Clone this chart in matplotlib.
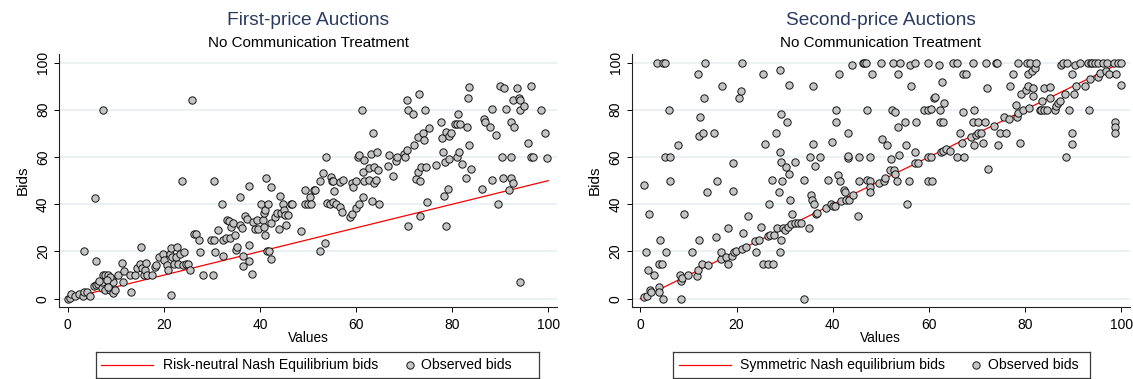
import matplotlib
matplotlib.use('Agg')
import matplotlib.pyplot as plt

plt.rcParams['font.family'] = ['Liberation Sans', 'DejaVu Sans']

# First-price auctions: (value, bid) pairs
fp_values = [0, 0.4, 0.7, 1.5, 2.3, 3.1, 3.5, 4.0, 4.6, 3.5, 5.6, 5.9, 5.4, 5.8, 6.4, 7.1, 7.4, 7.7, 7.4, 7.1,
             7.8, 8.3, 8.5, 8.9, 9.2, 9.5, 9.8, 9.5, 8.9, 8.1, 8.4, 6.6, 10.5, 11.4, 11.6, 11.8, 13.0, 13.1, 14.0, 14.5,
             15.1, 15.3, 15.5, 15.8, 16.0, 16.3, 16.6, 17.5, 18.1, 18.3, 19.0, 19.8, 20.1, 20.6, 20.9, 21.2, 21.4, 21.5, 21.8, 22.1,
             22.5, 22.7, 23.0, 23.4, 23.7, 23.9, 24.3, 24.6, 25.1, 25.5, 25.8, 26.2, 26.8, 27.4, 27.5, 28.2, 29.9, 30.2, 30.4, 30.4,
             30.6, 31.3, 32.1, 32.3, 32.4, 32.9, 33.2, 33.6, 33.7, 34.0, 34.4, 34.9, 35.0, 35.3, 35.8, 35.9, 36.3, 36.4, 36.4, 36.8,
             37.3, 37.7, 37.8, 37.7, 38.3, 38.6, 39.0, 39.4, 39.7, 40.2, 40.6, 40.8, 40.9, 41.0, 41.1, 41.2, 41.4, 41.7, 41.8, 42.3,
             42.4, 42.4, 43.1, 43.5, 43.9, 44.2, 44.4, 44.7, 45.0, 45.3, 45.4, 45.9, 46.4, 46.7, 48.6, 49.3, 49.4, 49.9, 50.5, 50.7,
             51.2, 51.5, 52.4, 52.4, 53.2, 53.5, 53.7, 54.0, 54.5, 54.8, 54.9, 55.1, 55.2, 55.5, 55.8, 56.6, 56.7, 57.1, 57.3, 58.7,
             59.1, 59.2, 59.4, 59.9, 59.9, 60.3, 60.6, 60.7, 61.2, 61.4, 61.7, 61.7, 61.5, 62.6, 62.7, 63.2, 63.4, 63.5, 63.7, 63.7,
             64.1, 64.4, 64.5, 64.7, 66.6, 66.8, 67.7, 68.4, 68.6, 69.9, 70.2, 70.5, 70.5, 70.9, 70.9, 71.9, 72.0, 72.5, 72.8, 72.9,
             73.0, 73.2, 73.4, 73.6, 74.0, 74.2, 74.3, 74.6, 74.7, 75.1, 76.6, 77.7, 77.8, 78.0, 78.2, 78.4, 78.8, 78.8, 79.2, 79.4,
             79.7, 79.4, 80.5, 80.9, 80.9, 81.4, 81.3, 81.6, 82.0, 82.9, 83.0, 83.3, 83.4, 83.4, 83.9, 86.3, 86.6, 86.8, 87.8, 88.2,
             88.3, 89.2, 89.6, 90.0, 90.4, 90.6, 90.8, 91.2, 91.8, 92.3, 92.3, 92.2, 92.6, 92.8, 92.7, 93.5, 93.8, 94.2, 94.2, 94.2,
             94.9, 95.8, 96.3, 96.3, 96.8, 98.4, 99.4, 99.8]
fp_bids = [0, 0.3, 2, 1, 2, 1, 3, 2.7, 1, 20, 42.6, 16, 5.4, 5.7, 6.4, 4.7, 10, 10, 80, 7,
           3.5, 10, 6.4, 3.5, 8.5, 2.4, 3.5, 7, 9.2, 7.8, 5, 7.5, 10, 15, 7, 11.7, 10, 3, 10, 12.9,
           14.6, 22, 13.2, 10, 12.3, 15.3, 10, 10, 13.4, 14.1, 17.7, 18.8, 16.3, 14.1, 12, 19, 21.6, 1.6, 17.7, 14.9,
           17.7, 22, 14.9, 19, 50, 14.4, 19.8, 14.9, 14.9, 12, 84.2, 27.2, 27.2, 25, 19.8, 10, 25, 10, 50, 25,
           19.8, 29.3, 40, 25, 18, 25.9, 33.2, 33, 25.9, 30.4, 32.1, 26.9, 20.8, 22, 43.1, 31.1, 30, 18, 14, 34.9,
           33.9, 47.7, 22.6, 16, 10.3, 32.5, 29.7, 33.2, 29.7, 40, 33.2, 36.1, 30.4, 37.5, 26.9, 50.9, 20.2, 40, 20.2, 32.1,
           47.1, 17, 34.7, 36.1, 29.7, 43.7, 36.1, 40, 37.5, 35.4, 31.1, 35.4, 40.3, 40, 28.7, 40, 46, 40, 43.1, 40,
           46, 46, 20.2, 50, 53.3, 23.8, 60.1, 40.6, 40, 51.6, 50, 41, 50, 45.4, 40.3, 38.9, 49.5, 36.9, 50.2, 34.7,
           35.8, 48.8, 47.4, 38.2, 50, 60.1, 60.7, 40, 80, 53.7, 58.7, 50, 43.1, 50.2, 55.2, 61.2, 41.3, 70.3, 55.6, 49.1,
           50.2, 62.2, 54.7, 40, 56.2, 60.7, 52, 58.1, 60.1, 61.2, 60.1, 84.2, 62.9, 30.7, 80, 78.2, 65.1, 50.5, 68.3, 53.7,
           86.7, 34.9, 50, 55.6, 70, 67.2, 80, 55.6, 40.9, 72.1, 56.6, 75, 67.9, 62.2, 43.4, 58, 30.7, 70.7, 46.5, 68.9,
           70, 59, 74, 74, 60.1, 62.2, 78.1, 74, 57, 50.9, 72.8, 84.9, 89.5, 65.1, 55, 46.3, 76.1, 75, 72.8, 50.2,
           80.2, 69.3, 40, 90.1, 60.1, 50.9, 89, 80.2, 46, 75, 59.8, 51.2, 84.2, 72.8, 49.1, 89, 84.9, 80, 7, 84.2,
           81.6, 65.8, 90.1, 60.1, 60.1, 80, 70, 59.4]

# Second-price auctions
sp_values = [0.75, 0.75, 1.4, 1.2, 1.5, 1.8, 2.1, 2.3, 2.9, 3.5, 3.8, 3.9, 4.1, 3.9, 4.4, 4.7, 4.8, 5.2, 5.2, 5.3,
             5.9, 6.2, 6.2, 7.9, 8.2, 8.4, 8.4, 8.7, 9.0, 9.9, 10.7, 11.8, 11.9, 12.0, 12.1, 12.2, 12.4, 12.9, 13.1, 13.3,
             13.4, 13.8, 14.1, 15.4, 15.8, 16.0, 16.7, 16.8, 16.9, 17.8, 18.3, 18.3, 19.0, 19.2, 19.2, 19.5, 19.8, 20.5, 20.9, 21.1,
             21.3, 21.2, 21.9, 22.3, 23.8, 24.1, 24.7, 25.1, 25.4, 25.4, 26.0, 26.5, 26.6, 26.8, 27.0, 27.4, 27.6, 27.8, 28.2, 28.5,
             28.9, 29.0, 29.0, 29.1, 29.3, 29.3, 29.3, 29.5, 29.6, 30.0, 30.2, 30.4, 30.6, 30.8, 31.0, 31.1, 31.4, 31.5, 32.1, 32.1,
             32.7, 33.3, 34.0, 34.0, 35.0, 35.3, 35.5, 35.7, 35.8, 35.9, 36.0, 36.3, 36.5, 36.7, 37.3, 38.7, 39.1, 39.7, 39.9, 40.1,
             40.4, 40.6, 40.7, 41.1, 41.3, 41.6, 41.8, 42.3, 42.5, 42.7, 43.1, 43.1, 43.1, 43.3, 44.0, 44.2, 45.3, 45.4, 45.5, 46.2,
             46.6, 46.9, 47.2, 47.2, 47.7, 47.7, 47.7, 47.7, 48.1, 49.6, 50.1, 50.2, 50.7, 50.8, 51.3, 51.8, 52.2, 52.4, 52.6, 52.7,
             52.9, 53.0, 53.4, 53.5, 53.5, 53.8, 54.0, 55.0, 55.3, 55.5, 55.9, 56.0, 56.2, 57.0, 57.2, 57.4, 57.2, 57.7, 58.9, 59.7,
             59.7, 59.9, 59.9, 60.4, 60.6, 60.4, 61.0, 61.2, 62.1, 62.3, 62.4, 62.5, 62.8, 63.0, 63.2, 63.0, 63.6, 64.4, 64.9, 65.8,
             65.9, 66.5, 66.9, 67.0, 67.0, 67.2, 67.6, 68.8, 69.1, 69.2, 69.4, 69.4, 69.7, 70.1, 70.3, 70.8, 71.2, 71.6, 71.9, 72.1,
             72.3, 73.6, 73.9, 74.1, 74.4, 74.8, 75.6, 76.1, 76.6, 76.8, 77.4, 78.1, 78.3, 78.5, 78.5, 78.9, 79.2, 79.5, 80.2, 80.4,
             80.5, 80.5, 80.8, 81.0, 81.4, 81.7, 81.6, 82.0, 82.3, 83.0, 83.4, 83.6, 84.0, 83.9, 84.6, 85.1, 85.1, 86.2, 86.4, 86.8,
             87.2, 87.4, 87.9, 88.2, 88.5, 88.8, 89.1, 89.7, 89.7, 89.8, 90.2, 90.4, 90.5, 91.4, 92.5, 93.1, 93.3, 93.4, 93.6, 94.0,
             94.6, 95.2, 95.2, 95.5, 96.1, 96.8, 97.0, 97.5, 98.5, 98.6, 98.6, 98.6, 98.8, 99.4, 100.0, 100.0]
sp_bids = [48.1, 0.7, 1, 19.9, 12, 35.9, 3.8, 2.8, 9.9, 100, 5, 2.8, 25, 14.9, 14.9, 100, 0, 100, 60, 19.9,
           79.9, 60, 49.9, 64.9, 9.9, 7.4, 0, 8.9, 35.9, 9.9, 19.9, 9.8, 95, 12, 25, 68.9, 76.9, 14.9, 70, 85,
           100, 45, 14.1, 70, 26, 49.9, 16.8, 19.9, 90, 17.7, 30, 14.9, 18, 57.6, 45.5, 19.7, 20.2, 85, 88, 100,
           27.9, 21.1, 21.9, 34.9, 24.3, 19.9, 25, 30.4, 14.9, 95, 65.5, 14.9, 26.6, 40, 26.9, 50.1, 14.9, 26.9, 70, 30,
           45, 19.9, 97, 62.1, 78.2, 25, 58, 49.9, 30, 29, 55.9, 75, 30.4, 52.8, 90.5, 42, 31.5, 35.9, 57.9, 32.1,
           32.1, 32.1, 50.1, 0, 30, 60, 44.1, 41.7, 90, 65.5, 40, 56.2, 35.9, 36.4, 60, 38.6, 50.1, 40, 66.5, 39.2,
           39.2, 75, 79.9, 52.3, 95, 49.9, 41.4, 46, 45.3, 41.7, 59.4, 60.3, 70, 42, 99, 44.1, 34.9, 49.9, 60, 100,
           100, 100, 79.9, 50.1, 49.9, 60, 47.4, 45, 95, 48.9, 100, 67.5, 49.9, 50.9, 64.9, 54.7, 59, 79.9, 100, 54.7,
           78.9, 53, 49.9, 72.8, 95, 60.8, 100, 75, 64.9, 40, 49.9, 99, 90, 62.1, 100, 75, 57.3, 57.6, 79.9, 79.9,
           60, 100, 49.9, 60, 49.9, 80.5, 84.9, 85.6, 99, 79.9, 75, 62.2, 91.9, 75, 83, 62.7, 63.2, 62.7, 100, 100,
           60, 70, 66.1, 78.9, 95, 60, 95, 68.6, 100, 75, 79.9, 65.2, 69.3, 75, 70, 70, 65.8, 75, 100, 89,
           54.9, 73.1, 100, 100, 64.9, 70, 76.8, 70, 76, 90, 95, 82, 77.1, 100, 78.5, 66.1, 86.7, 79.9, 88.4, 100,
           90, 95, 80.6, 100, 96.2, 89.1, 85.9, 97.6, 100, 79.9, 79.9, 83.5, 89.1, 79.9, 79.9, 89.8, 84.9, 79.9, 81.6, 83,
           83.5, 99, 100, 86.7, 60, 100, 79.9, 70, 65.5, 95, 86.7, 99, 90, 100, 90, 100, 79.9, 92.9, 100, 100,
           100, 100, 94, 95.5, 100, 96.5, 100, 95, 100, 75, 72.8, 70, 95, 100, 100, 90.5]

# Nash equilibrium bid functions
eq_values = [0, 100]
fp_eq_bids = [0, 50]
sp_eq_bids = [0, 100]

ticks = [0, 20, 40, 60, 80, 100]
title_color = '#2a3b62'
W, H = 1133, 379

fig = plt.figure(figsize=(W / 100, H / 100), dpi=100)

panels = [
    dict(left=59, right=557, title='First-price Auctions', x=fp_values, y=fp_bids, eq=fp_eq_bids,
         eq_label='Risk-neutral Nash Equilibrium bids', leg=(95.7, 538.7), leg_items=(5.3, 57.3, 67, 314.3, 325.3)),
    dict(left=631.7, right=1130, title='Second-price Auctions', x=sp_values, y=sp_bids, eq=sp_eq_bids,
         eq_label='Symmetric Nash equilibrium bids', leg=(673.3, 1090.3), leg_items=(6.1, 57.6, 66.6, 303.2, 314.7)),
]

top, bottom = 54, 307
for p in panels:
    ax = fig.add_axes([p['left'] / W, (H - bottom) / H, (p['right'] - p['left']) / W, (bottom - top) / H])
    ax.plot(eq_values, p['eq'], color='#ff0000', lw=0.9, zorder=2)
    ax.scatter(p['x'], p['y'], s=28, facecolor='#c4c4c4', edgecolor='#151515', linewidth=0.7, zorder=3)
    ax.set_xlim(-1.8, 101.8)
    ax.set_ylim(-3.5, 103.6)
    ax.set_xticks(ticks)
    ax.set_yticks(ticks)
    ax.grid(axis='y', color='#e6eef0', lw=1.1)
    ax.set_axisbelow(True)
    for s in ['top', 'right']:
        ax.spines[s].set_visible(False)
    for s in ['left', 'bottom']:
        ax.spines[s].set_linewidth(0.8)
        ax.spines[s].set_color('#222222')
    ax.tick_params(axis='x', length=3.5, width=0.7, labelsize=10, pad=4.2)
    ax.tick_params(axis='y', length=3.8, width=0.7, labelsize=10, pad=2.7, labelrotation=90)
    for t in ax.get_yticklabels():
        t.set_va('center')
    ax.set_xlabel('Values', fontsize=9.8)
    ax.xaxis.set_label_coords(0.5, -0.1245)
    ax.xaxis.label.set_va('center')
    ax.set_ylabel('Bids', fontsize=11)
    ax.yaxis.set_label_coords(-0.0737, 0.5)
    ax.yaxis.label.set_va('center')

    cx = (p['left'] + p['right']) / 2 / W
    fig.text(cx, 1 - 20.7 / H, p['title'], ha='center', va='center', fontsize=13.8, color=title_color)
    fig.text(cx, 1 - 42.7 / H, 'No Communication Treatment', ha='center', va='center', fontsize=10.9, color='black')

    # legend box below the plot
    l0, l1 = p['leg']
    lg = fig.add_axes([l0 / W, (H - 378) / H, (l1 - l0) / W, 26 / H])
    lg.set_xlim(0, l1 - l0)
    lg.set_ylim(0, 26)
    lg.set_xticks([])
    lg.set_yticks([])
    for s in lg.spines.values():
        s.set_linewidth(0.9)
        s.set_color('#3a3a3a')
    a, b, t1, m, t2 = p['leg_items']
    lg.plot([a, b], [13, 13], color='#ff0000', lw=0.9)
    lg.text(t1, 13, p['eq_label'], va='center', ha='left', fontsize=10.1)
    lg.scatter([m], [13], s=28, facecolor='#c4c4c4', edgecolor='#151515', linewidth=0.7)
    lg.text(t2, 13, 'Observed bids', va='center', ha='left', fontsize=10.1)

fig.savefig('out.png', dpi=100)
